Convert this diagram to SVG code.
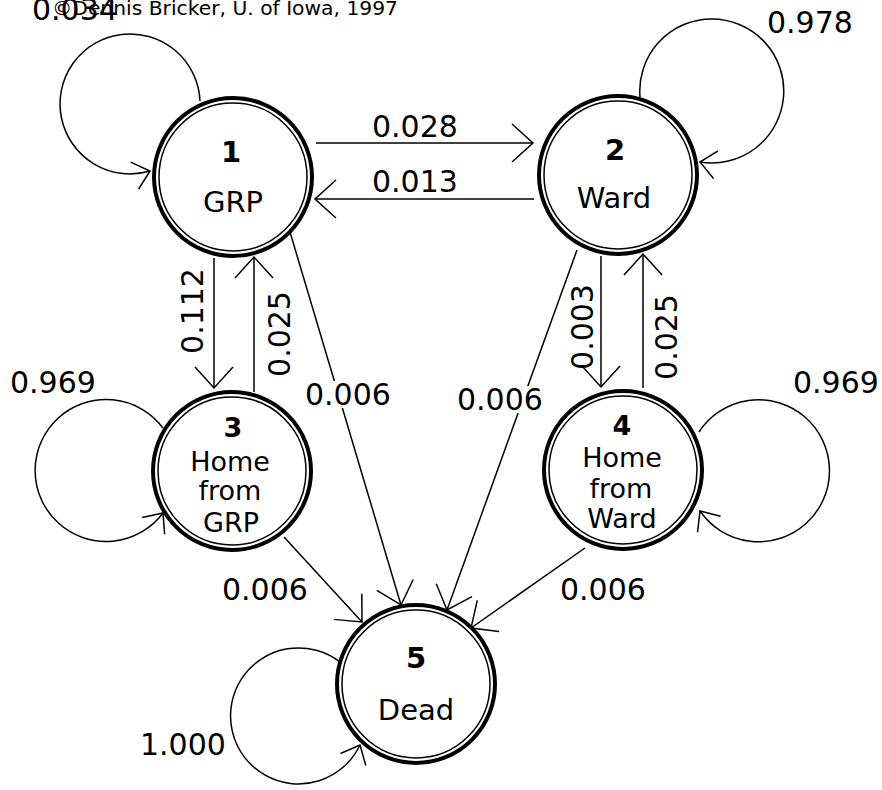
<svg xmlns="http://www.w3.org/2000/svg" width="882" height="790" viewBox="0 0 882 790">
<style>
.outer{fill:#fff;stroke:#000;stroke-width:4}
.inner{fill:none;stroke:#000;stroke-width:1.5}
.edge{fill:none;stroke:#000;stroke-width:1.5;marker-end:url(#ah)}
.loop{fill:none;stroke:#000;stroke-width:1.5;marker-end:url(#ahs)}
.lbl{font-family:"DejaVu Sans",sans-serif;font-size:30px;fill:#000}
.nt{font-family:"DejaVu Sans",sans-serif;font-size:29px;fill:#000;text-anchor:middle}
.sm{font-size:27px}
.num{font-weight:bold}
.cp{font-family:"DejaVu Sans",sans-serif;font-size:19px;fill:#000}
</style>
<defs>
<marker id="ah" markerUnits="userSpaceOnUse" markerWidth="60" markerHeight="60" refX="0" refY="0" orient="auto" overflow="visible">
<path d="M-21,-19 L0,0 L-21,19" fill="none" stroke="#000" stroke-width="1.5"/>
</marker>
<marker id="ahs" markerUnits="userSpaceOnUse" markerWidth="60" markerHeight="60" refX="0" refY="0" orient="auto" overflow="visible">
<path d="M-16,-14 L0,0 L-16,14" fill="none" stroke="#000" stroke-width="1.5"/>
</marker>
</defs>
<rect width="882" height="790" fill="#fff"/>

<g id="connectors">
<path class="loop" d="M 200 101 A 70 70 0 1 0 150 171"/>
<path class="loop" d="M 640 97 A 72 72 0 1 1 700 162"/>
<path class="loop" d="M 163 428 A 71 71 0 1 0 163 513"/>
<path class="loop" d="M 699 432 A 71 71 0 1 1 700 511"/>
<path class="loop" d="M 340 662 A 68 68 0 1 0 360 745"/>
<line class="edge" x1="316" y1="143" x2="533" y2="143"/>
<line class="edge" x1="534" y1="199" x2="315" y2="199"/>
<line class="edge" x1="214" y1="258" x2="214" y2="388"/>
<line class="edge" x1="254" y1="392" x2="254" y2="257"/>
<line class="edge" x1="601" y1="256" x2="601" y2="387"/>
<line class="edge" x1="643" y1="388" x2="643" y2="254"/>
<line class="edge" x1="290" y1="232" x2="401" y2="605"/>
<line class="edge" x1="577" y1="250" x2="447" y2="610"/>
<line class="edge" x1="284" y1="537" x2="362" y2="622"/>
<line class="edge" x1="585" y1="548" x2="471" y2="628"/>
</g>

<g id="labels">
<text class="lbl" x="32" y="20">0.034</text>
<text class="cp" x="52" y="15" textLength="346" lengthAdjust="spacingAndGlyphs">©Dennis Bricker, U. of Iowa, 1997</text>
<text class="lbl" x="372" y="137">0.028</text>
<text class="lbl" x="372" y="192">0.013</text>
<text class="lbl" x="767" y="33">0.978</text>
<text class="lbl" x="10" y="393">0.969</text>
<text class="lbl" x="793" y="393">0.969</text>
<text class="lbl" text-anchor="middle" transform="rotate(-90 203 311)" x="203" y="311">0.112</text>
<text class="lbl" text-anchor="middle" transform="rotate(-90 290 334)" x="290" y="334">0.025</text>
<text class="lbl" text-anchor="middle" transform="rotate(-90 593 327)" x="593" y="327">0.003</text>
<text class="lbl" text-anchor="middle" transform="rotate(-90 677 337)" x="677" y="337">0.025</text>
<rect x="304" y="381" width="92" height="27" fill="#fff"/>
<text class="lbl" x="305" y="405">0.006</text>
<rect x="456" y="386" width="92" height="27" fill="#fff"/>
<text class="lbl" x="457" y="410">0.006</text>
<text class="lbl" x="222" y="600">0.006</text>
<text class="lbl" x="560" y="600">0.006</text>
<text class="lbl" x="140" y="755">1.000</text>
</g>

<g id="node1">
<circle class="outer" cx="233" cy="177" r="79"/>
<circle class="inner" cx="233" cy="177" r="74"/>
<text class="nt num" x="231" y="162">1</text>
<text class="nt" x="233" y="212">GRP</text>
</g>
<g id="node2">
<circle class="outer" cx="618" cy="175" r="79"/>
<circle class="inner" cx="618" cy="175" r="74"/>
<text class="nt num" x="615" y="160">2</text>
<text class="nt" x="614" y="208">Ward</text>
</g>
<g id="node3">
<circle class="outer" cx="232" cy="471" r="79"/>
<circle class="inner" cx="232" cy="471" r="74"/>
<text class="nt sm num" x="233" y="437">3</text>
<text class="nt sm" x="230" y="471">Home</text>
<text class="nt sm" x="230" y="500">from</text>
<text class="nt sm" x="231" y="532">GRP</text>
</g>
<g id="node4">
<circle class="outer" cx="623" cy="470" r="79"/>
<circle class="inner" cx="623" cy="470" r="74"/>
<text class="nt sm num" x="622" y="435">4</text>
<text class="nt sm" x="622" y="467">Home</text>
<text class="nt sm" x="621" y="498">from</text>
<text class="nt sm" x="622" y="528">Ward</text>
</g>
<g id="node5">
<circle class="outer" cx="416" cy="684" r="79"/>
<circle class="inner" cx="416" cy="684" r="74"/>
<text class="nt num" x="416" y="668">5</text>
<text class="nt" x="416" y="720">Dead</text>
</g>
</svg>
